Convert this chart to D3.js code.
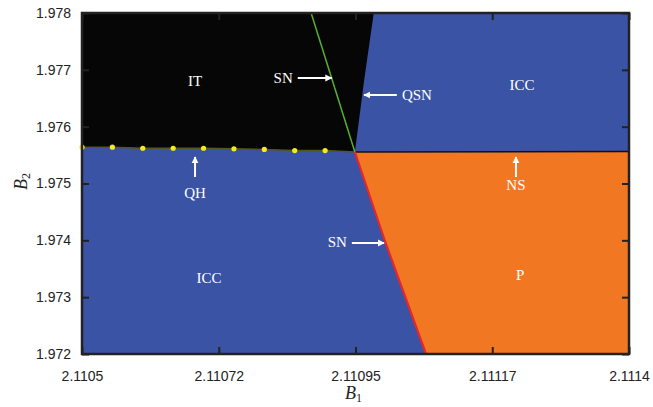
<!DOCTYPE html>
<html>
<head>
<meta charset="utf-8">
<script src="https://cdn.jsdelivr.net/npm/d3@7"></script>
<style>
  body { margin: 0; background: #fff; }
  svg { display: block; }
</style>
</head>
<body>
<div id="chart"></div>
<script>
// axis ticks
const xTicks = [2.1105, 2.110725, 2.11095, 2.111175, 2.1114];
const xTickLabels = ["2.1105", "2.11072", "2.11095", "2.11117", "2.1114"];
const yTicks = [1.972, 1.973, 1.974, 1.975, 1.976, 1.977, 1.978];
const yTickLabels = ["1.972", "1.973", "1.974", "1.975", "1.976", "1.977", "1.978"];

// bifurcation curves (B1, B2)
const codim2Point = [2.110949, 1.975554];
const qhDots = [
  [2.1105, 1.97564], [2.11055, 1.97564], [2.1106, 1.97562], [2.11065, 1.97562],
  [2.1107, 1.97562], [2.11075, 1.97561], [2.1108, 1.97560], [2.11085, 1.97558],
  [2.1109, 1.97558]
];
const snUpper = [[2.110949, 1.975554], [2.110877, 1.978]];
const qsnCurve = [[2.110949, 1.975554], [2.110964, 1.9768], [2.110980, 1.978]];
const nsCurve = [[2.110949, 1.975554], [2.1114, 1.975562]];
const snLower = [[2.110949, 1.975554], [2.110999, 1.973971], [2.111066, 1.972]];

// region labels and arrows (data units)
const regionLabels = [
  { text: "IT", x: 2.110686, y: 1.976803 },
  { text: "SN", x: 2.110831, y: 1.976856 },
  { text: "QSN", x: 2.111051, y: 1.976557 },
  { text: "ICC", x: 2.111224, y: 1.976733 },
  { text: "QH", x: 2.110686, y: 1.974833 },
  { text: "NS", x: 2.111214, y: 1.974974 },
  { text: "SN", x: 2.110920, y: 1.973971 },
  { text: "ICC", x: 2.110709, y: 1.973337 },
  { text: "P", x: 2.111221, y: 1.973390 }
];
const arrows = [
  [[2.110855, 1.976856], [2.110911, 1.976856]],
  [[2.111018, 1.976557], [2.110964, 1.976557]],
  [[2.110686, 1.975114], [2.110686, 1.975466]],
  [[2.111214, 1.975114], [2.111214, 1.975466]],
  [[2.110944, 1.973953], [2.110997, 1.973953]]
];

const W = 653, H = 407;
const margin = { top: 13, right: 24, bottom: 53, left: 82 };
const width = W - margin.left - margin.right,
      height = H - margin.top - margin.bottom;

const svg = d3.select("#chart").append("svg")
  .attr("width", W).attr("height", H);

const x = d3.scaleLinear().domain([2.1105, 2.1114]).range([0, width]);
const y = d3.scaleLinear().domain([1.972, 1.978]).range([height, 0]);

const g = svg.append("g").attr("transform", `translate(${margin.left},${margin.top})`);

const blue = "#3a53a4", orange = "#f27722", black = "#060606";

// background = ICC region
g.append("rect").attr("width", width).attr("height", height).attr("fill", blue);

const poly = d3.line().x(d => x(d[0])).y(d => y(d[1]));

// IT region (black)
const itRegion = [[2.1105, 1.978]].concat(qsnCurve.slice().reverse(), qhDots.slice().reverse(), [[2.1105, 1.975633]]);
g.append("path").attr("d", poly(itRegion) + "Z").attr("fill", black);

// P region (orange)
const pRegion = nsCurve.concat([[2.1114, 1.972]], snLower.slice().reverse());
g.append("path").attr("d", poly(pRegion) + "Z").attr("fill", orange);

// curves
g.append("path").attr("d", poly(qhDots.concat([codim2Point])))
  .attr("fill", "none").attr("stroke", "#55551c").attr("stroke-width", 1.5);
g.append("path").attr("d", poly(nsCurve))
  .attr("fill", "none").attr("stroke", "#111").attr("stroke-width", 1.5);
g.append("path").attr("d", poly(snUpper))
  .attr("fill", "none").attr("stroke", "#56b032").attr("stroke-width", 1.5);
g.append("path").attr("d", poly(snLower))
  .attr("fill", "none").attr("stroke", "#e8262a").attr("stroke-width", 2.2);

g.selectAll("circle.qh").data(qhDots).join("circle")
  .attr("class", "qh")
  .attr("cx", d => x(d[0])).attr("cy", d => y(d[1])).attr("r", 2.6)
  .attr("fill", "#f4ea1c");

// arrows
const defs = svg.append("defs");
defs.append("marker").attr("id", "head")
  .attr("viewBox", "0 0 10 10").attr("refX", 9).attr("refY", 5)
  .attr("markerWidth", 3.6).attr("markerHeight", 3.6).attr("orient", "auto")
  .append("path").attr("d", "M0,0L10,5L0,10Z").attr("fill", "#fff");

g.selectAll("line.arrow").data(arrows).join("line")
  .attr("class", "arrow")
  .attr("x1", d => x(d[0][0])).attr("y1", d => y(d[0][1]))
  .attr("x2", d => x(d[1][0])).attr("y2", d => y(d[1][1]))
  .attr("stroke", "#fff").attr("stroke-width", 2)
  .attr("marker-end", "url(#head)");

g.selectAll("text.region").data(regionLabels).join("text")
  .attr("class", "region")
  .attr("x", d => x(d.x)).attr("y", d => y(d.y))
  .attr("dy", "0.34em")
  .attr("text-anchor", "middle")
  .attr("fill", "#fff")
  .style("font-family", "'Liberation Serif', 'DejaVu Serif', serif")
  .style("font-size", "15px")
  .text(d => d.text);

// axes, ticks inside on all four sides
const axisFont = sel => sel.selectAll("text")
  .style("font-family", "'Liberation Sans', Arial, sans-serif")
  .style("font-size", "14px").attr("fill", "#222");

const xa = g.append("g").attr("transform", `translate(0,${height})`)
  .call(d3.axisBottom(x).tickValues(xTicks).tickFormat((d, i) => xTickLabels[i])
    .tickSize(-7).tickPadding(17));
xa.call(axisFont);
g.append("g").call(d3.axisTop(x).tickValues(xTicks).tickFormat("").tickSize(-7));

const ya = g.append("g")
  .call(d3.axisLeft(y).tickValues(yTicks).tickFormat((d, i) => yTickLabels[i])
    .tickSize(-7).tickPadding(11));
ya.call(axisFont);
g.append("g").attr("transform", `translate(${width},0)`)
  .call(d3.axisRight(y).tickValues(yTicks).tickFormat("").tickSize(-7));

g.selectAll(".domain").remove();
g.selectAll(".tick line").attr("stroke", "#222").attr("stroke-width", 2);

g.append("rect").attr("width", width).attr("height", height)
  .attr("fill", "none").attr("stroke", "#222").attr("stroke-width", 2.5);

// axis titles
const b1 = svg.append("text")
  .attr("x", margin.left + x(2.11095) - 2).attr("y", 399)
  .attr("text-anchor", "middle")
  .style("font-family", "'Liberation Serif', serif").style("font-size", "18px")
  .attr("fill", "#222");
b1.append("tspan").style("font-style", "italic").text("B");
b1.append("tspan").attr("dy", 3).style("font-size", "12px").text("1");

const b2 = svg.append("text")
  .attr("transform", `translate(27,${margin.top + y(1.975) - 2}) rotate(-90)`)
  .attr("text-anchor", "middle")
  .style("font-family", "'Liberation Serif', serif").style("font-size", "18px")
  .attr("fill", "#222");
b2.append("tspan").style("font-style", "italic").text("B");
b2.append("tspan").attr("dy", 3).style("font-size", "12px").text("2");
</script>
</body>
</html>
